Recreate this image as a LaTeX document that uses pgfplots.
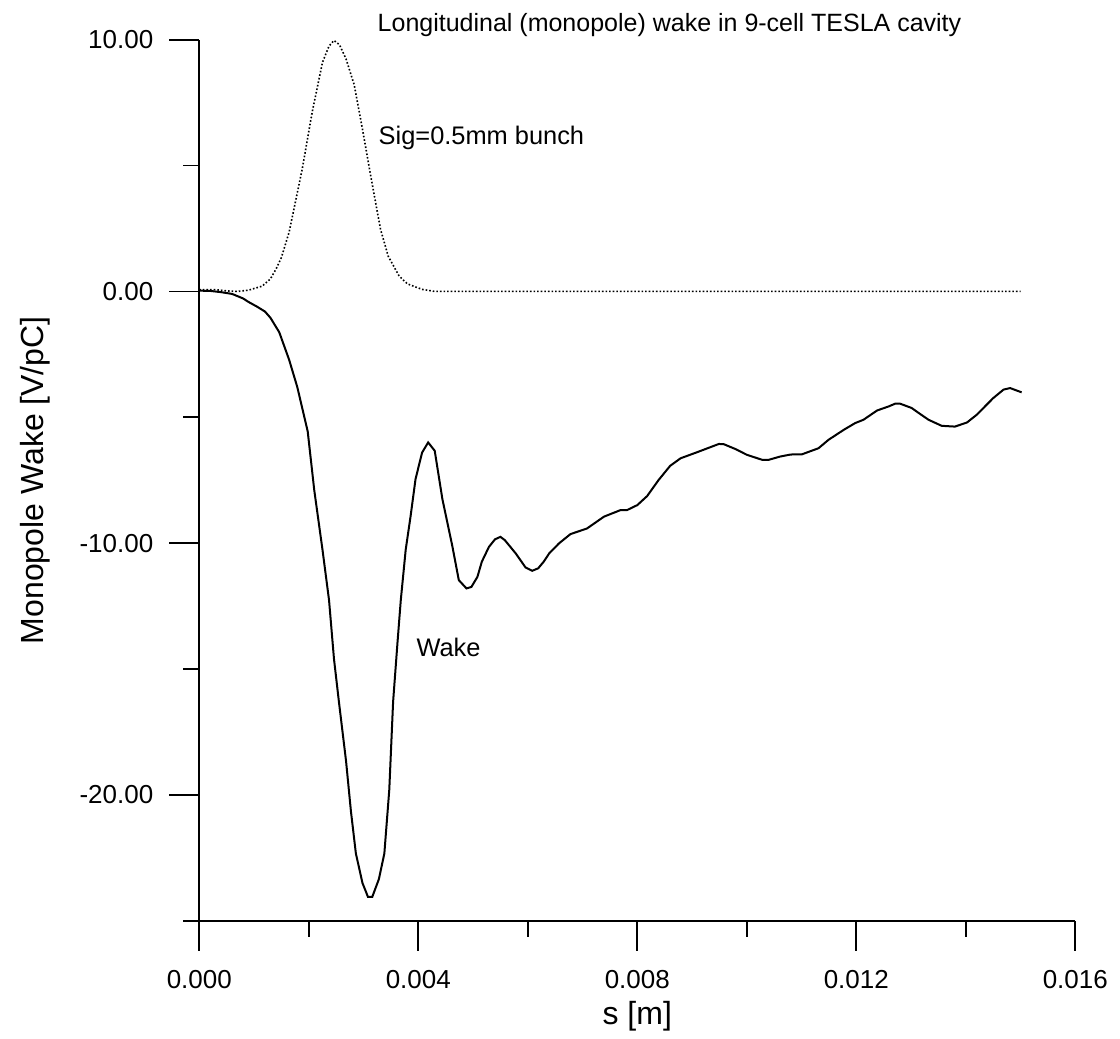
\documentclass[border=0pt]{standalone}
\usepackage{fontspec}
\setmainfont{Liberation Sans}
\usepackage{pgfplots}
\pgfplotsset{compat=1.18}
\begin{document}
\begin{tikzpicture}
\begin{axis}[
  scale only axis,
  width=438pt, height=440.5pt,
  xmin=0, xmax=0.016, ymin=-25, ymax=10,
  axis x line=bottom, axis y line=left,
  axis line style={-, line width=0.9pt},
  tick align=outside,
  major tick length=15pt, minor tick length=8pt,
  tick style={line width=0.8pt, black},
  xtick={0,0.004,0.008,0.012,0.016},
  xticklabels={0.000,0.004,0.008,0.012,0.016},
  minor xtick={0.002,0.006,0.010,0.014},
  ytick={-20,-10,0,10},
  yticklabels={-20.00,-10.00,0.00,10.00},
  minor ytick={-25,-15,-5,5},
  scaled x ticks=false, scaled y ticks=false,
  ticklabel style={font=\fontsize{13}{15}\selectfont},
  yticklabel style={anchor=east, xshift=-4.5pt},
  xticklabel style={anchor=north, yshift=-6.5pt},
  xlabel={s [m]},
  ylabel={Monopole Wake [V/pC]},
  xlabel style={font=\fontsize{16}{18}\selectfont, at={(axis description cs:0.5,0)}, anchor=base, yshift=-52pt},
  ylabel style={font=\fontsize{16}{18}\selectfont, at={(axis description cs:0,0.5)}, anchor=base, rotate=0, yshift=78pt},
  clip=false,
]
\addplot[black, line width=1pt] coordinates {
(0,0.03) (0.0002,0.02) (0.0004,-0.03) (0.0006,-0.1) (0.0008,-0.28) (0.0009,-0.42)
(0.00105,-0.6) (0.0012,-0.8) (0.0013,-1.05) (0.00146,-1.62) (0.00164,-2.71)
(0.00179,-3.8) (0.00198,-5.56) (0.0021,-7.9) (0.00225,-10.26) (0.00237,-12.27)
(0.00246,-14.6) (0.00255,-16.3) (0.00268,-18.65) (0.00277,-20.66) (0.00286,-22.33)
(0.00298,-23.5) (0.00308,-24.05) (0.00316,-24.05) (0.00328,-23.35) (0.00338,-22.33)
(0.00347,-19.8) (0.00354,-16.3) (0.00362,-13.95) (0.00368,-12.27) (0.00377,-10.26)
(0.00386,-8.92) (0.00395,-7.45) (0.00407,-6.4) (0.00418,-6.0) (0.0043,-6.33)
(0.00444,-8.25) (0.00462,-10.1) (0.00474,-11.47) (0.00488,-11.8) (0.00497,-11.74)
(0.00508,-11.34) (0.00516,-10.74) (0.00529,-10.15) (0.0054,-9.85) (0.0055,-9.75)
(0.00558,-9.88) (0.00578,-10.41) (0.00596,-10.97) (0.00608,-11.1) (0.00619,-11.0)
(0.00629,-10.74) (0.00639,-10.41) (0.00657,-10.01) (0.00678,-9.64) (0.00708,-9.42)
(0.00739,-8.95) (0.00769,-8.69) (0.00781,-8.69) (0.008,-8.49) (0.00818,-8.13)
(0.00839,-7.49) (0.0086,-6.93) (0.00879,-6.63) (0.00909,-6.39) (0.00949,-6.06)
(0.00958,-6.07) (0.00979,-6.26) (0.01,-6.49) (0.01028,-6.69) (0.0104,-6.69)
(0.01061,-6.56) (0.0108,-6.48) (0.01101,-6.47) (0.01131,-6.23) (0.01149,-5.9)
(0.01177,-5.5) (0.01198,-5.23) (0.01213,-5.1) (0.01238,-4.73) (0.01259,-4.57)
(0.01271,-4.46) (0.0128,-4.46) (0.01301,-4.63) (0.01314,-4.83) (0.01332,-5.1)
(0.01356,-5.34) (0.0138,-5.37) (0.01402,-5.21) (0.0142,-4.9) (0.01435,-4.57)
(0.0145,-4.24) (0.01469,-3.9) (0.01481,-3.84) (0.01502,-4.01)
};
\addplot[black, line width=0.8pt, densely dotted] coordinates {
(0,0.07) (0.0003,0.07) (0.0005,0.02) (0.0007,0.0) (0.0009,0.05) (0.00115,0.21)
(0.0013,0.5) (0.0014,0.88) (0.0015,1.35) (0.00164,2.35) (0.00176,3.6) (0.00188,4.86)
(0.00206,7.1) (0.00225,9.1) (0.00237,9.75) (0.00246,9.97) (0.00256,9.8) (0.00268,9.24)
(0.00283,8.2) (0.00298,6.45) (0.00313,4.6) (0.00331,2.47) (0.00345,1.4) (0.00365,0.61)
(0.0038,0.3) (0.00407,0.08) (0.0043,0.0) (0.015,0.0)
};
\node[anchor=base west, font=\fontsize{12.7}{15}\selectfont, inner sep=0pt] at (axis cs:0.00327,5.83) {Sig=0.5mm bunch};
\node[anchor=base west, font=\fontsize{12.7}{15}\selectfont, inner sep=0pt] at (axis cs:0.00396,-14.51) {Wake};
\end{axis}
\node[anchor=base west, font=\fontsize{12.5}{15}\selectfont, inner sep=0pt] at (89pt,444.5pt) {Longitudinal (monopole) wake in 9-cell TESLA cavity};
\pgfresetboundingbox
\path (-99.65pt,-59.15pt) rectangle (460.35pt,460.35pt);
\end{tikzpicture}
\end{document}
